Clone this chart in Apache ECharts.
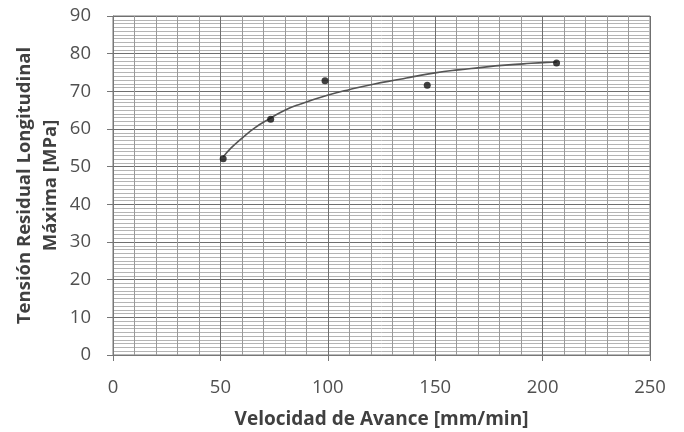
<!DOCTYPE html>
<html>
<head>
<meta charset="utf-8">
<script src="https://cdn.jsdelivr.net/npm/echarts@6/dist/echarts.min.js"></script>
<style>html,body{margin:0;padding:0;background:#fff}#c{width:684px;height:432px}</style>
</head>
<body>
<div id="c"></div>
<script>
// Measured points (Velocidad de Avance [mm/min], Tensión [MPa])
const speedValues = [51.3, 73.4, 98.7, 146.3, 206.5];
const stressValues = [52.1, 62.6, 72.8, 71.6, 77.5];
// Trend line
const trendX = [51.3, 55, 59.1, 66, 73.4, 80, 87.1, 100.2, 110.3, 121.2, 133.6, 139.8, 149.9, 160.8, 170.9, 181.0, 191.0, 201.9, 206.6];
const trendY = [52.6, 55.0, 57.1, 60.3, 62.9, 65.0, 66.6, 69.0, 70.5, 71.9, 73.2, 73.9, 74.9, 75.7, 76.3, 76.9, 77.3, 77.7, 77.8];
const xTicks = [0, 50, 100, 150, 200, 250];
const yTicks = [0, 10, 20, 30, 40, 50, 60, 70, 80, 90];

const font = '"Open Sans", "Liberation Sans", sans-serif';
const chart = echarts.init(document.getElementById('c'), null, {renderer: 'canvas'});
chart.setOption({
  animation: false,
  backgroundColor: '#fff',
  grid: {left: 113, right: 34, top: 16, bottom: 77, show: true, borderColor: '#777', borderWidth: 1,
         containLabel: false, outerBoundsMode: 'none'},
  xAxis: {
    type: 'value', min: xTicks[0], max: xTicks[xTicks.length - 1], interval: 50,
    name: 'Velocidad de Avance [mm/min]', nameLocation: 'middle', nameGap: 55,
    nameTextStyle: {fontFamily: font, fontSize: 19, fontWeight: 'bold', color: '#404040'},
    axisLine: {show: true, lineStyle: {color: '#777'}},
    axisTick: {show: true, length: 6, lineStyle: {color: '#777'}},
    axisLabel: {fontFamily: font, fontSize: 18.5, color: '#505050', margin: 23},
    splitLine: {show: true, lineStyle: {color: '#6f6f6f', width: 1}},
    minorTick: {show: false, splitNumber: 5},
    minorSplitLine: {show: true, lineStyle: {color: '#9a9a9a', width: 1}}
  },
  yAxis: {
    type: 'value', min: yTicks[0], max: yTicks[yTicks.length - 1], interval: 10,
    name: 'Tensión Residual Longitudinal\nMáxima [MPa]', nameLocation: 'middle', nameGap: 49,
    nameMoveOverlap: false,
    nameTextStyle: {fontFamily: font, fontSize: 18.5, fontWeight: 'bold', color: '#404040', lineHeight: 26},
    axisLine: {show: true, lineStyle: {color: '#777'}},
    axisTick: {show: true, length: 6, lineStyle: {color: '#777'}},
    axisLabel: {fontFamily: font, fontSize: 18.5, color: '#505050', margin: 22},
    splitLine: {show: true, lineStyle: {color: '#6f6f6f', width: 1}},
    minorTick: {show: false, splitNumber: 10},
    minorSplitLine: {show: true, lineStyle: {color: '#b4b4b4', width: 1}}
  },
  series: [
    {
      type: 'line', data: trendX.map((x, i) => [x, trendY[i]]), smooth: true, showSymbol: false,
      lineStyle: {color: '#555', width: 1.6}, z: 3
    },
    {
      type: 'scatter', data: speedValues.map((x, i) => [x, stressValues[i]]),
      symbol: 'circle', symbolSize: 7, itemStyle: {color: '#111'}, z: 4
    }
  ]
});
</script>
</body>
</html>
